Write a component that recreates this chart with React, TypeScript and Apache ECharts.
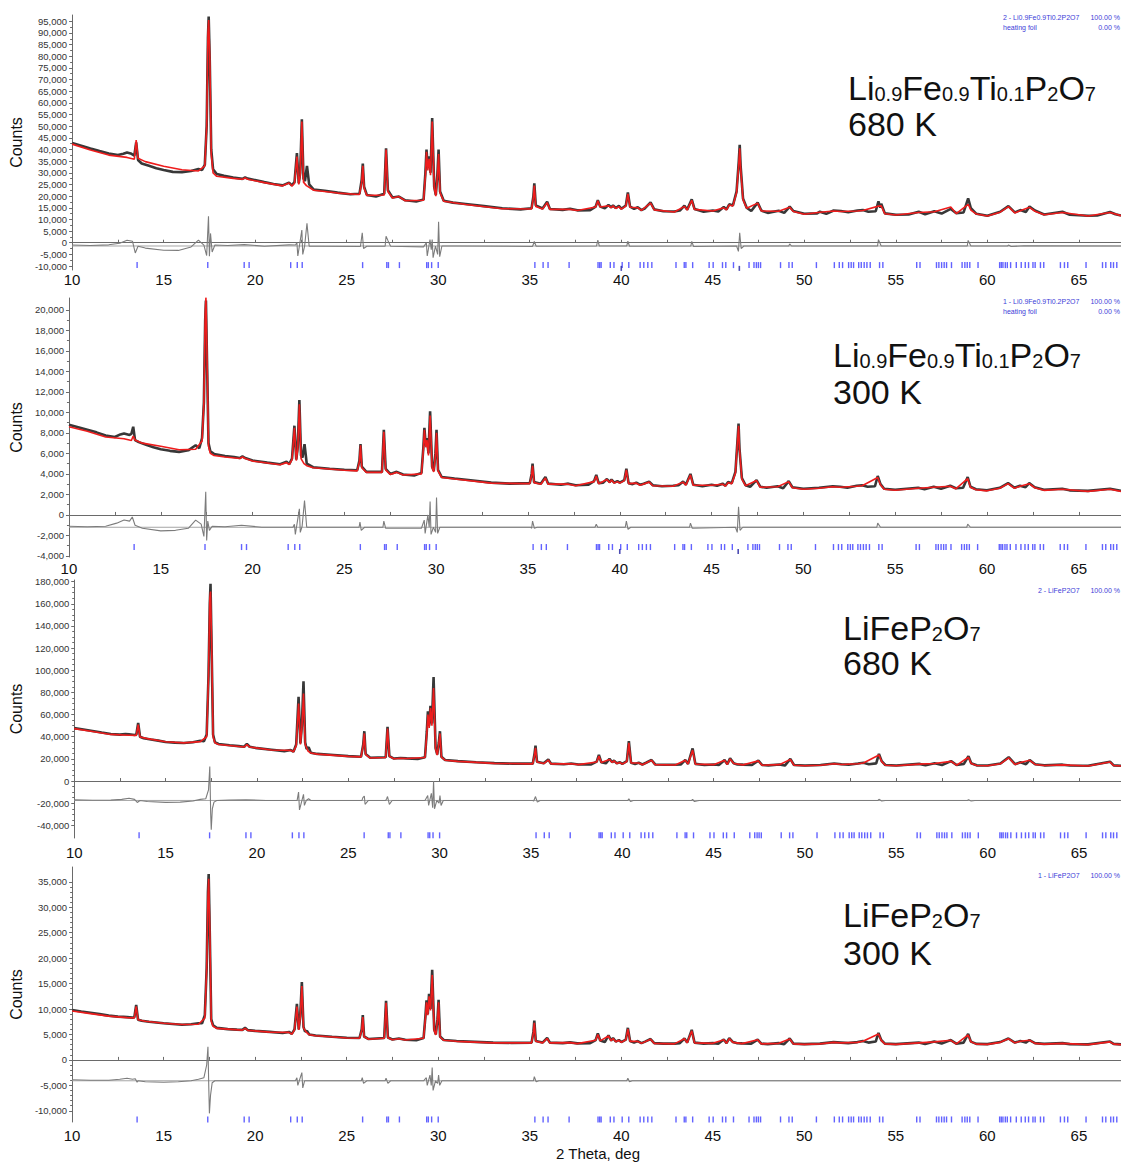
import React, { useEffect, useRef } from "react";
import * as echarts from "echarts";

const FONT = "'Liberation Sans', Arial, Helvetica, sans-serif";

// ---------- axes ----------
const X_MIN = 10;
const X_MAX = 67.3;
const X_LABELS = [10, 15, 20, 25, 30, 35, 40, 45, 50, 55, 60, 65];
const X_TICKS = [10, 12.5, 15, 17.5, 20, 22.5, 25, 27.5, 30, 32.5, 35, 37.5, 40, 42.5, 45, 47.5, 50, 52.5, 55, 57.5, 60, 62.5, 65];

const P1_Y_LABELS = [-10000, -5000, 0, 5000, 10000, 15000, 20000, 25000, 30000, 35000, 40000, 45000, 50000, 55000, 60000, 65000, 70000, 75000, 80000, 85000, 90000, 95000];
const P2_Y_LABELS = [-4000, -2000, 0, 2000, 4000, 6000, 8000, 10000, 12000, 14000, 16000, 18000, 20000];
const P3_Y_LABELS = [-40000, -20000, 0, 20000, 40000, 60000, 80000, 100000, 120000, 140000, 160000, 180000];
const P4_Y_LABELS = [-10000, -5000, 0, 5000, 10000, 15000, 20000, 25000, 30000, 35000];

// ---------- reflection positions (2θ) ----------
const REFLECTIONS = [13.55, 17.41, 19.4, 19.67, 21.94, 22.3, 22.57, 25.87, 27.19, 27.28, 27.88, 29.37, 29.46, 29.64, 30.0,
  35.28, 35.73, 36.0, 37.15, 38.73, 38.82, 38.9, 39.4, 39.6, 40.05, 40.41, 41.03, 41.23, 41.45, 41.67, 42.99, 43.44, 43.53,
  43.9, 44.8, 45.02, 45.53, 45.71, 46.13, 46.98, 47.25, 47.38, 47.49, 47.61, 48.7, 49.16, 49.34, 50.66, 51.64, 51.91, 52.09,
  52.42, 52.56, 52.69, 52.97, 53.11, 53.27, 53.42, 53.6, 54.11, 54.29, 56.14, 56.32, 57.22, 57.35, 57.5, 57.64, 57.77, 58.04,
  58.62, 58.77, 58.9, 59.04, 59.49, 60.67, 60.76, 60.85, 60.98, 61.09, 61.27, 61.58, 61.85, 62.07, 62.25, 62.49, 62.61, 62.9,
  63.08, 63.99, 64.21, 64.39, 65.39, 66.29, 66.47, 66.74, 66.89, 67.07];
const FOIL_REFLECTIONS = [40.0, 46.45];

// ---------- Panel 1: Li0.9Fe0.9Ti0.1P2O7, 680 K ----------
const P1_OBS = [10.0,42800, 10.5,41600, 11.0,40400, 11.5,39300, 12.0,38300, 12.5,37600, 12.8,38200, 13.0,38700, 13.2,38300, 13.4,37400,
  13.5,43000, 13.6,35500, 13.8,34000, 14.2,33000, 14.6,32000, 15.0,31200, 15.5,30400, 16.0,30300, 16.5,30800, 16.9,31600, 17.1,31200,
  17.25,33500, 17.35,50000, 17.42,88000, 17.46,97000, 17.52,78000, 17.6,40000, 17.7,31500, 17.9,29500, 18.3,28700, 18.8,28000,
  19.3,27400, 19.45,28000, 19.6,27500, 19.9,27000, 20.5,26000, 21.0,25200, 21.5,24600, 21.85,25800, 22.0,24600, 22.15,26000,
  22.28,38500, 22.38,25500, 22.46,30000, 22.55,53000, 22.64,27500, 22.72,26500, 22.83,33000, 22.95,25000, 23.2,22800, 23.8,22300,
  24.5,21500, 25.2,20800, 25.7,21000, 25.82,27000, 25.88,34000, 25.95,24000, 26.1,20500, 26.6,19800, 27.05,21000, 27.15,40500,
  27.25,22500, 27.5,19400, 27.85,19800, 28.2,18200, 28.8,17700, 29.2,18500, 29.3,30000, 29.36,40000, 29.43,32000, 29.5,37000,
  29.58,30000, 29.67,53500, 29.78,24000, 29.87,20500, 29.96,30000, 30.02,40000, 30.1,22000, 30.3,18000, 30.8,17200, 31.5,16600,
  32.5,15700, 33.5,14800, 34.5,14300, 35.1,14800, 35.2,20000, 35.25,25500, 35.33,16000, 35.7,14700, 35.95,17600, 36.1,14500,
  36.8,14100, 37.2,14600, 37.6,13900, 38.3,14000, 38.6,15500, 38.72,18300, 38.85,15500, 39.1,14800, 39.3,16200, 39.45,15200,
  39.55,16000, 39.7,14900, 39.87,15800, 40.0,14600, 40.25,16000, 40.36,21600, 40.48,15500, 40.7,14500, 40.9,15200, 41.1,14000,
  41.3,14800, 41.6,17300, 41.8,14300, 42.3,13500, 42.9,13400, 43.2,13800, 43.45,15900, 43.6,14200, 43.85,18600, 44.0,14500,
  44.5,13300, 45.0,13800, 45.3,13400, 45.6,15300, 45.75,14300, 45.9,16500, 46.1,16000, 46.3,22000, 46.42,35000, 46.47,42000,
  46.52,33000, 46.65,19000, 46.85,15000, 47.1,13600, 47.45,17200, 47.65,13800, 48.0,12800, 48.6,13700, 48.9,12800, 49.2,15500,
  49.4,13600, 50.0,12400, 50.7,12600, 50.85,13300, 51.2,12400, 51.6,13800, 52.0,13600, 52.4,13100, 52.9,13800, 53.2,14000,
  53.5,13300, 53.9,13500, 54.05,17800, 54.15,15000, 54.2,16700, 54.4,12600, 55.0,12000, 55.7,12100, 56.25,13300, 56.6,12200,
  57.1,13500, 57.5,12500, 58.0,14500, 58.3,12700, 58.7,13000, 58.95,19000, 59.1,14800, 59.4,12400, 60.0,11600, 60.7,13300,
  61.15,15700, 61.5,13000, 61.8,14000, 62.1,13200, 62.3,15500, 62.6,13800, 63.1,12100, 64.1,13300, 64.5,12000, 65.5,11600,
  66.0,11700, 66.7,13200, 67.0,12200, 67.3,11700];
const P1_CALC = [10.0,42300, 11.0,39800, 12.0,37600, 13.0,36600, 13.4,35800, 13.5,44000, 13.6,36200, 14.0,34800, 15.0,32800,
  16.0,31300, 16.9,30800, 17.25,33000, 17.35,50000, 17.42,90000, 17.46,95500, 17.52,80000, 17.6,38000, 17.7,30000, 17.9,28500,
  18.8,27600, 19.3,27200, 19.45,27800, 19.6,27200, 20.5,25800, 21.5,24400, 21.85,25600, 22.0,24300, 22.15,25500, 22.28,37000,
  22.38,25000, 22.46,29000, 22.55,52000, 22.64,26000, 22.8,24500, 23.2,22500, 24.5,21300, 25.7,20700, 25.82,26000, 25.88,33000,
  25.95,23500, 26.1,20300, 27.05,20500, 27.15,40000, 27.25,22000, 27.5,19200, 27.85,19800, 28.2,18000, 29.2,18200, 29.3,29000,
  29.36,39000, 29.43,31000, 29.5,36000, 29.58,29000, 29.67,52000, 29.78,23500, 29.87,20000, 29.96,29000, 30.02,38000, 30.1,21500,
  30.3,17800, 31.5,16400, 33.5,14600, 35.1,14500, 35.2,19500, 35.25,24500, 35.33,15500, 35.7,14500, 35.95,17200, 36.1,14300,
  37.2,14300, 37.6,13800, 38.6,15300, 38.72,18000, 38.85,15300, 39.3,15900, 39.45,15000, 39.55,15800, 39.7,14700, 39.87,15500,
  40.0,14400, 40.25,15700, 40.36,21000, 40.48,15200, 40.9,15000, 41.1,13900, 41.6,17000, 41.8,14100, 42.9,13200, 43.45,15600,
  43.6,14000, 43.85,18200, 44.0,14300, 45.0,13600, 45.6,15000, 45.75,14100, 45.9,16200, 46.1,15800, 46.3,21500, 46.42,34000,
  46.47,40500, 46.52,32000, 46.65,18500, 46.85,14800, 47.45,17000, 47.65,13600, 48.6,13500, 49.2,15200, 49.4,13400, 50.0,12200,
  50.85,13100, 51.6,13600, 52.0,13400, 52.9,13600, 53.2,13800, 54.05,15700, 54.2,15800, 54.4,12400, 55.0,11900, 56.25,13000,
  57.1,13300, 58.0,15300, 58.3,12500, 58.95,16500, 59.1,14000, 59.4,12300, 60.0,11500, 60.7,13100, 61.15,15500, 61.5,12800,
  61.8,13700, 62.3,15200, 62.6,13500, 63.1,12000, 64.1,13000, 65.5,11500, 66.7,13000, 67.3,11600];
const P1_DIFF = [10.0,-1000, 11.0,-1200, 12.0,-900, 12.6,-200, 13.0,1100, 13.3,600, 13.45,-4400, 13.6,-1500, 14.0,-2300, 15.0,-3200,
  15.8,-3300, 16.5,-1800, 16.9,1100, 17.2,-1000, 17.35,-5500, 17.45,11400, 17.5,-5800, 17.56,4000, 17.65,-4000, 17.8,-1000,
  18.5,-1200, 19.4,-800, 20.5,-1500, 21.85,-900, 22.2,-1000, 22.28,0, 22.33,-5700, 22.55,5400, 22.6,-5000, 22.7,-1500,
  22.83,8300, 22.95,-1500, 23.5,-1500, 25.75,-1600, 25.85,4300, 25.92,-2500, 26.1,-1500, 27.1,-1500, 27.15,2800, 27.25,1000,
  27.4,-1500, 29.2,-1800, 29.35,0, 29.4,-5700, 29.55,1400, 29.62,-3000, 29.67,1400, 29.72,-6400, 29.85,-1500, 29.97,-5000,
  30.02,9000, 30.08,-6000, 30.2,-1400, 31.0,-1400, 35.15,-1600, 35.25,500, 35.35,-1500, 38.65,-1400, 38.72,1100, 38.8,-1400,
  40.3,-1400, 40.36,700, 40.45,-1500, 43.8,-1400, 43.85,600, 43.95,-1600, 46.3,-1400, 46.4,-3700, 46.47,4300, 46.55,-2500,
  46.7,-1400, 49.15,-1400, 49.2,-500, 49.3,-1400, 54.0,-1400, 54.05,1300, 54.2,-1400, 58.9,-1400, 58.95,1000, 59.1,-1400,
  61.1,-1400, 61.15,-1000, 61.3,-1600, 62.0,-1300, 67.3,-1400];
const P1_DIFF_BASE = -1400;

// ---------- Panel 2: Li0.9Fe0.9Ti0.1P2O7, 300 K ----------
const P2_OBS = [10.0,8800, 10.5,8550, 11.0,8300, 11.5,8050, 12.0,7750, 12.5,7600, 12.8,7850, 13.0,7950, 13.3,7800, 13.4,7900,
  13.5,8600, 13.6,7300, 13.8,7100, 14.2,6850, 14.6,6600, 15.0,6400, 15.5,6250, 16.0,6150, 16.5,6300, 16.9,6800, 17.1,6500,
  17.25,7500, 17.35,11000, 17.42,19000, 17.46,20900, 17.52,15000, 17.6,7000, 17.7,6200, 17.9,5950, 18.5,5750, 19.0,5650,
  19.3,5550, 19.45,5700, 19.6,5550, 20.0,5300, 20.8,5100, 21.5,4950, 21.85,5200, 22.0,4950, 22.15,5500, 22.28,8700, 22.38,5400,
  22.46,6600, 22.55,11200, 22.64,5800, 22.72,5600, 22.83,6900, 22.95,5000, 23.3,4650, 24.2,4500, 25.0,4400, 25.7,4350, 25.82,5300,
  25.88,6900, 25.95,4700, 26.2,4200, 27.05,4200, 27.15,8300, 27.25,4500, 27.5,4000, 27.85,4200, 28.2,3950, 28.8,3850, 29.2,4100,
  29.3,6500, 29.36,8500, 29.43,6800, 29.5,7500, 29.58,6000, 29.67,10100, 29.78,4700, 29.87,4300, 29.96,6000, 30.02,8300,
  30.1,4400, 30.3,3700, 31.0,3550, 32.0,3350, 33.0,3150, 34.0,3050, 35.1,3100, 35.2,4000, 35.25,5000, 35.33,3200, 35.7,3050,
  35.95,3700, 36.1,3050, 36.8,2950, 37.2,3050, 37.6,2900, 38.3,2950, 38.6,3300, 38.72,3900, 38.85,3100, 39.1,3150, 39.3,3500,
  39.45,3200, 39.55,3450, 39.7,3150, 39.87,3300, 40.0,3150, 40.25,3400, 40.36,4500, 40.48,3100, 40.7,3000, 40.9,3150, 41.1,2950,
  41.3,3050, 41.6,3250, 41.8,2900, 42.3,2800, 42.9,2850, 43.2,2900, 43.45,3250, 43.6,2950, 43.85,4000, 44.0,2950, 44.5,2800,
  45.0,2950, 45.3,2850, 45.6,3050, 45.75,2850, 45.9,3200, 46.1,3100, 46.3,4200, 46.42,7500, 46.47,8900, 46.52,6500, 46.65,3600,
  46.85,2900, 47.1,2750, 47.45,3400, 47.65,2750, 48.0,2650, 48.6,2800, 48.9,2600, 49.2,3300, 49.4,2700, 50.0,2550, 50.85,2650,
  51.6,2800, 52.0,2750, 52.4,2650, 52.9,2850, 53.2,2900, 53.5,2750, 53.9,2800, 54.05,3800, 54.2,3000, 54.4,2550, 55.0,2450,
  56.25,2650, 56.6,2500, 57.1,2750, 57.5,2550, 58.0,2850, 58.3,2600, 58.7,2650, 58.95,3700, 59.1,2750, 59.4,2500, 60.0,2400,
  60.7,2650, 61.15,3100, 61.5,2650, 61.8,2850, 62.1,2700, 62.3,3100, 62.6,2700, 63.1,2450, 64.1,2550, 64.5,2400, 65.5,2350,
  66.7,2550, 67.3,2350];
const P2_CALC = [10.0,8600, 11.0,8150, 12.0,7600, 13.0,7430, 13.4,7250, 13.5,7700, 13.6,7300, 14.0,7000, 15.0,6700, 16.0,6360,
  16.9,6400, 17.25,7200, 17.35,11000, 17.42,19500, 17.46,21200, 17.52,15500, 17.6,6700, 17.7,6000, 17.9,5800, 18.5,5650,
  19.3,5500, 19.45,5650, 19.6,5500, 20.0,5250, 21.5,4900, 21.85,5100, 22.0,4900, 22.15,5400, 22.28,8500, 22.38,5300, 22.46,6400,
  22.55,10800, 22.64,5500, 22.8,5000, 22.95,4800, 23.3,4600, 25.0,4350, 25.7,4300, 25.82,5200, 25.88,6800, 25.95,4600, 26.2,4150,
  27.05,4150, 27.15,8100, 27.25,4400, 27.5,3950, 27.85,4150, 28.2,3900, 29.2,4000, 29.3,6300, 29.36,8300, 29.43,6600, 29.5,7300,
  29.58,5800, 29.67,9700, 29.78,4600, 29.87,4200, 29.96,5800, 30.02,8000, 30.1,4300, 30.3,3650, 31.0,3500, 33.0,3100, 35.1,3050,
  35.2,3900, 35.25,4800, 35.33,3150, 35.7,3000, 35.95,3600, 36.1,3000, 37.2,3000, 37.6,2850, 38.6,3250, 38.72,3800, 38.85,3050,
  39.3,3450, 39.45,3150, 39.55,3400, 39.7,3100, 39.87,3250, 40.0,3100, 40.25,3350, 40.36,4400, 40.48,3050, 40.9,3100, 41.1,2900,
  41.6,3200, 41.8,2850, 42.9,2800, 43.45,3200, 43.6,2900, 43.85,3900, 44.0,2900, 45.0,2900, 45.6,3000, 45.75,2800, 45.9,3150,
  46.1,3050, 46.3,4100, 46.42,7400, 46.47,8700, 46.52,6400, 46.65,3500, 46.85,2850, 47.45,3350, 47.65,2700, 48.6,2750, 49.2,3250,
  49.4,2650, 50.0,2500, 50.85,2600, 51.6,2750, 52.0,2700, 52.9,2800, 53.2,2850, 54.05,3650, 54.2,2950, 54.4,2500, 55.0,2400,
  56.25,2600, 57.1,2700, 58.0,2800, 58.3,2550, 58.95,3550, 59.1,2700, 59.4,2450, 60.0,2350, 60.7,2600, 61.15,3050, 61.5,2600,
  61.8,2800, 62.3,3050, 62.6,2650, 63.1,2400, 64.1,2500, 65.5,2300, 66.7,2500, 67.3,2300];
const P2_DIFF = [10.0,-1100, 11.0,-1150, 12.0,-1100, 12.6,-800, 13.0,-500, 13.3,-600, 13.45,-200, 13.6,-1000, 14.0,-1300,
  15.0,-1550, 15.8,-1500, 16.5,-1300, 16.9,-500, 17.2,-900, 17.35,-2100, 17.45,2260, 17.5,-2500, 17.56,-600, 17.65,-1500,
  17.8,-1100, 18.5,-1150, 19.4,-1000, 20.5,-1200, 22.2,-1200, 22.28,-900, 22.33,-1900, 22.55,600, 22.6,-1700, 22.7,-1100,
  22.83,1400, 22.95,-1200, 25.8,-1200, 25.85,-700, 25.92,-1500, 26.1,-1200, 27.1,-1200, 27.15,-600, 27.25,-1300, 29.2,-1300,
  29.35,-500, 29.4,-1800, 29.55,0, 29.62,-1200, 29.67,1300, 29.72,-1900, 29.85,-1200, 29.97,-1700, 30.02,1700, 30.08,-1800,
  30.2,-1200, 35.15,-1200, 35.2,-1300, 35.25,-600, 35.35,-1300, 35.5,-1200, 38.65,-1200, 38.72,-900, 38.8,-1200, 40.3,-1200,
  40.36,-600, 40.45,-1400, 40.6,-1200, 43.8,-1200, 43.85,-800, 43.95,-1300, 46.3,-1200, 46.4,-1700, 46.47,800, 46.55,-1500,
  46.7,-1200, 54.0,-1200, 54.05,-800, 54.2,-1200, 58.9,-1200, 58.95,-900, 59.1,-1200, 67.3,-1200];
const P2_DIFF_BASE = -1200;

// ---------- Panel 3: LiFeP2O7, 680 K ----------
const P3_OBS = [10.0,47800, 10.5,46500, 11.0,45200, 11.5,43800, 12.0,42500, 12.5,41900, 12.8,42500, 13.0,42200, 13.3,41600,
  13.4,42000, 13.5,52500, 13.6,40000, 13.8,38700, 14.2,37500, 14.6,36500, 15.0,35300, 15.5,34700, 16.0,34300, 16.5,35000,
  16.9,36400, 17.1,36000, 17.25,42000, 17.35,95000, 17.42,160000, 17.46,178000, 17.52,120000, 17.6,42000, 17.7,35000,
  17.9,33500, 18.5,32300, 19.0,31500, 19.3,31000, 19.45,33500, 19.6,31000, 20.0,29700, 20.8,28300, 21.5,27000, 21.85,28000,
  22.0,26500, 22.15,33000, 22.28,76000, 22.38,34000, 22.46,50000, 22.55,90000, 22.64,35000, 22.72,29000, 22.83,30500,
  22.95,25500, 23.3,24500, 24.2,23500, 25.0,22500, 25.7,22000, 25.82,33000, 25.88,45000, 25.95,24500, 26.2,21000, 27.05,21500,
  27.15,49000, 27.25,22500, 27.5,20300, 27.85,20800, 28.2,20500, 28.8,20000, 29.2,21500, 29.3,45000, 29.36,63000, 29.43,50000,
  29.5,68000, 29.58,52000, 29.67,94000, 29.78,30000, 29.87,24000, 29.96,35000, 30.02,45000, 30.1,22000, 30.3,19000, 31.0,18000,
  32.0,17000, 33.0,16200, 34.0,15700, 35.1,15700, 35.2,25000, 35.25,32000, 35.33,17500, 35.7,16000, 35.95,19500, 36.1,15700,
  36.8,15200, 37.2,15800, 37.6,15000, 38.3,15100, 38.6,17500, 38.72,23500, 38.85,17000, 39.1,16000, 39.3,20000, 39.45,17000,
  39.55,18500, 39.7,16000, 39.87,17000, 40.0,15500, 40.25,18000, 40.36,36000, 40.48,16500, 40.7,15500, 40.9,16500, 41.1,15000,
  41.3,16500, 41.6,19000, 41.8,15000, 42.3,14700, 42.9,14700, 43.2,15000, 43.45,19000, 43.6,15500, 43.85,29500, 44.0,15500,
  44.5,14500, 45.0,15000, 45.3,14600, 45.6,19000, 45.75,15200, 45.9,20500, 46.1,16000, 46.3,15000, 46.6,14800, 47.1,14500,
  47.45,18500, 47.65,14500, 48.0,14200, 48.6,15000, 48.9,14000, 49.2,20000, 49.4,14500, 50.0,14000, 50.85,14500, 51.6,15800,
  52.0,15200, 52.4,14800, 52.9,15800, 53.2,16500, 53.5,15200, 53.9,16000, 54.05,24500, 54.2,18000, 54.4,14500, 55.0,14000,
  56.25,15500, 56.6,14200, 57.1,16000, 57.5,14500, 58.0,18000, 58.3,14500, 58.7,15500, 58.95,22500, 59.1,16000, 59.4,14200,
  60.0,14000, 60.7,15800, 61.15,21500, 61.5,15200, 61.8,17000, 62.1,15200, 62.3,19000, 62.6,15200, 63.1,14200, 64.1,14800,
  64.5,14000, 65.5,13800, 66.7,17500, 66.9,14200, 67.3,13800];
const P3_CALC = [10.0,47300, 11.0,44800, 12.0,42100, 13.0,41300, 13.4,41200, 13.5,51000, 13.6,39800, 14.0,38300, 15.0,35500,
  16.0,34500, 16.9,35600, 17.25,40000, 17.35,95000, 17.42,165000, 17.46,171000, 17.52,125000, 17.6,40000, 17.7,34500, 17.9,33000,
  19.3,30700, 19.45,33000, 19.6,30700, 20.8,28000, 21.85,27700, 22.0,26300, 22.15,32000, 22.28,70000, 22.38,33000, 22.46,48000,
  22.55,79000, 22.64,33000, 22.8,27000, 22.95,25300, 23.3,24300, 25.0,22300, 25.7,21800, 25.82,32000, 25.88,43000, 25.95,24000,
  26.2,20800, 27.05,21300, 27.15,47500, 27.25,22300, 27.5,20100, 27.85,20600, 28.2,20300, 29.2,21200, 29.3,43000, 29.36,60000,
  29.43,48000, 29.5,66000, 29.58,50000, 29.67,84000, 29.78,29000, 29.87,23500, 29.96,34000, 30.02,43000, 30.1,21500, 30.3,18800,
  31.0,17800, 33.0,16000, 35.1,15500, 35.2,24000, 35.25,30000, 35.33,17200, 35.7,15800, 35.95,19000, 36.1,15500, 37.2,15600,
  37.6,14800, 38.6,17200, 38.72,22500, 38.85,16800, 39.3,19500, 39.45,16800, 39.55,18200, 39.7,15800, 39.87,16800, 40.0,15300,
  40.25,17700, 40.36,34500, 40.48,16300, 40.9,16300, 41.1,14800, 41.6,18700, 41.8,14800, 42.9,14500, 43.45,18700, 43.6,15300,
  43.85,28000, 44.0,15300, 45.0,14800, 45.6,18700, 45.75,15000, 45.9,20000, 46.1,15800, 46.6,14600, 47.45,18200, 47.65,14300,
  48.6,14800, 49.2,19500, 49.4,14300, 50.0,13800, 50.85,14300, 51.6,15600, 52.0,15000, 52.9,15600, 53.2,16300, 54.05,23500,
  54.2,17500, 54.4,14300, 55.0,13800, 56.25,15300, 57.1,15800, 58.0,17800, 58.3,14300, 58.95,21500, 59.1,15800, 59.4,14000,
  60.0,13800, 60.7,15600, 61.15,21000, 61.5,15000, 61.8,16800, 62.3,18700, 62.6,15000, 63.1,14000, 64.1,14600, 65.5,13600,
  66.7,17200, 66.9,14000, 67.3,13600];
const P3_DIFF = [10.0,-17000, 11.0,-17300, 12.0,-17200, 12.6,-16500, 13.0,-15500, 13.3,-16500, 13.45,-19300, 13.6,-17500,
  14.0,-18500, 15.0,-19200, 15.8,-19000, 16.5,-18000, 16.9,-16500, 17.2,-16000, 17.35,-8000, 17.42,13200, 17.47,-30000,
  17.5,-44000, 17.56,-25000, 17.65,-19000, 17.8,-17500, 18.5,-17200, 19.4,-17000, 20.5,-17500, 22.2,-17500, 22.28,-10000,
  22.33,-26000, 22.55,-12000, 22.6,-22000, 22.7,-17500, 22.83,-16000, 22.95,-17500, 25.75,-17500, 25.8,-15000, 25.88,-13500,
  25.92,-21000, 26.1,-17500, 27.05,-17500, 27.1,-16000, 27.15,-14000, 27.25,-21000, 27.4,-17500, 29.2,-17500, 29.35,-13000,
  29.4,-22000, 29.55,-11000, 29.62,-24000, 29.67,0, 29.72,-25000, 29.85,-17500, 29.97,-20000, 30.02,-13000, 30.08,-22000,
  30.2,-17500, 35.1,-17500, 35.15,-18000, 35.25,-14000, 35.35,-19000, 35.5,-17500, 40.3,-17500, 40.36,-16000, 40.45,-18500,
  40.6,-17500, 43.8,-17500, 43.85,-16500, 43.95,-18500, 44.2,-17500, 54.0,-17500, 54.05,-16500, 54.2,-18000, 54.4,-17500,
  58.9,-17500, 58.95,-16800, 59.1,-18000, 59.3,-17500, 67.3,-17500];
const P3_DIFF_BASE = -17500;

// ---------- Panel 4: LiFeP2O7, 300 K ----------
const P4_OBS = [10.0,9800, 10.5,9500, 11.0,9250, 11.5,9000, 12.0,8700, 12.5,8500, 12.8,8450, 13.0,8400, 13.3,8300, 13.4,8400,
  13.5,10800, 13.6,7900, 13.8,7700, 14.2,7500, 14.6,7350, 15.0,7200, 15.5,7050, 16.0,6900, 16.5,7000, 16.9,7200, 17.1,7200,
  17.25,8800, 17.35,18000, 17.42,33000, 17.46,36500, 17.52,25000, 17.6,8000, 17.7,6800, 17.9,6300, 18.5,6050, 19.0,5950,
  19.3,5900, 19.45,6300, 19.6,5850, 20.0,5700, 20.8,5500, 21.5,5300, 21.85,5500, 22.0,5100, 22.15,6000, 22.28,11000, 22.38,6000,
  22.46,8500, 22.55,15300, 22.64,6500, 22.72,5600, 22.83,5700, 22.95,5000, 23.3,4800, 24.2,4550, 25.0,4350, 25.7,4300, 25.82,6000,
  25.88,8800, 25.95,4600, 26.2,4100, 27.05,4300, 27.15,11600, 27.25,4400, 27.5,4000, 27.85,4200, 28.2,3950, 28.8,3850, 29.2,4300,
  29.3,8500, 29.36,11700, 29.43,9000, 29.5,13000, 29.58,10000, 29.67,17700, 29.78,6000, 29.87,5000, 29.96,8000, 30.02,11800,
  30.1,4600, 30.3,3900, 31.0,3700, 32.0,3550, 33.0,3400, 34.0,3350, 35.1,3400, 35.2,5500, 35.25,7700, 35.33,3700, 35.7,3400,
  35.95,4300, 36.1,3400, 36.8,3300, 37.2,3450, 37.6,3250, 38.3,3300, 38.6,3900, 38.72,5200, 38.85,3800, 39.1,3500, 39.3,4800,
  39.45,3800, 39.55,4300, 39.7,3600, 39.87,3900, 40.0,3500, 40.25,4000, 40.36,6300, 40.48,3700, 40.7,3400, 40.9,3700, 41.1,3300,
  41.3,3600, 41.6,4100, 41.8,3300, 42.3,3200, 42.9,3200, 43.2,3300, 43.45,4200, 43.6,3400, 43.85,5900, 44.0,3400, 44.5,3200,
  45.0,3300, 45.3,3200, 45.6,4000, 45.75,3300, 45.9,4300, 46.1,3500, 46.3,3300, 46.6,3250, 47.1,3200, 47.45,4000, 47.65,3200,
  48.0,3100, 48.6,3300, 48.9,3100, 49.2,4200, 49.4,3200, 50.0,3100, 50.85,3200, 51.6,3500, 52.0,3400, 52.4,3300, 52.9,3500,
  53.2,3700, 53.5,3400, 53.9,3600, 54.05,5300, 54.2,3900, 54.4,3200, 55.0,3100, 56.25,3400, 56.6,3150, 57.1,3600, 57.5,3200,
  58.0,3900, 58.3,3200, 58.7,3400, 58.95,5100, 59.1,3600, 59.4,3150, 60.0,3100, 60.7,3500, 61.15,4200, 61.5,3400, 61.8,3700,
  62.1,3400, 62.3,3900, 62.6,3300, 63.1,3150, 64.1,3300, 64.5,3100, 65.5,3050, 66.7,3600, 66.9,3150, 67.3,3050];
const P4_CALC = [10.0,9600, 11.0,9100, 12.0,8600, 13.0,8300, 13.4,8250, 13.5,10500, 13.6,7900, 14.0,7600, 15.0,7200, 16.0,6950,
  16.9,7000, 17.25,8200, 17.35,18000, 17.42,32000, 17.46,35600, 17.52,26000, 17.6,7600, 17.7,6600, 17.9,6200, 19.3,5850,
  19.45,6200, 19.6,5800, 20.8,5450, 21.85,5400, 22.0,5050, 22.15,5900, 22.28,10500, 22.38,5900, 22.46,8200, 22.55,14500,
  22.64,6300, 22.8,5400, 22.95,4950, 23.3,4750, 25.0,4300, 25.7,4250, 25.82,5800, 25.88,8400, 25.95,4550, 26.2,4050, 27.05,4250,
  27.15,11200, 27.25,4350, 27.5,3950, 27.85,4150, 28.2,3900, 29.2,4250, 29.3,8200, 29.36,11300, 29.43,8800, 29.5,12500,
  29.58,9700, 29.67,16700, 29.78,5800, 29.87,4900, 29.96,7800, 30.02,11300, 30.1,4500, 30.3,3850, 31.0,3650, 33.0,3350,
  35.1,3350, 35.2,5300, 35.25,7300, 35.33,3650, 35.7,3350, 35.95,4200, 36.1,3350, 37.2,3400, 37.6,3200, 38.6,3850, 38.72,5000,
  38.85,3750, 39.3,4700, 39.45,3750, 39.55,4200, 39.7,3550, 39.87,3850, 40.0,3450, 40.25,3950, 40.36,6100, 40.48,3650, 40.9,3650,
  41.1,3250, 41.6,4050, 41.8,3250, 42.9,3150, 43.45,4150, 43.6,3350, 43.85,5700, 44.0,3350, 45.0,3250, 45.6,3950, 45.75,3250,
  45.9,4200, 46.1,3450, 46.6,3200, 47.45,3950, 47.65,3150, 48.6,3250, 49.2,4100, 49.4,3150, 50.0,3050, 50.85,3150, 51.6,3450,
  52.0,3350, 52.9,3450, 53.2,3650, 54.05,5100, 54.2,3850, 54.4,3150, 55.0,3050, 56.25,3350, 57.1,3550, 58.0,3850, 58.3,3150,
  58.95,4900, 59.1,3550, 59.4,3100, 60.0,3050, 60.7,3450, 61.15,4150, 61.5,3350, 61.8,3650, 62.3,3850, 62.6,3250, 63.1,3100,
  64.1,3250, 65.5,3000, 66.7,3550, 66.9,3100, 67.3,3000];
const P4_DIFF = [10.0,-3900, 11.0,-4000, 12.0,-4000, 12.6,-3800, 13.0,-3600, 13.3,-3800, 13.45,-3700, 13.55,-4400, 13.6,-4100,
  14.0,-4300, 15.0,-4400, 15.8,-4300, 16.5,-4100, 16.9,-3800, 17.2,-3500, 17.35,-1000, 17.42,2600, 17.47,-6000, 17.5,-10500,
  17.56,-7000, 17.65,-4500, 17.8,-4100, 22.2,-4100, 22.28,-3500, 22.33,-5000, 22.55,-2500, 22.6,-5500, 22.7,-4100, 25.8,-4100,
  25.85,-3500, 25.92,-4600, 26.1,-4100, 27.1,-4100, 27.15,-3600, 27.25,-4600, 27.4,-4100, 29.2,-4100, 29.35,-3500, 29.4,-5000,
  29.55,-3000, 29.62,-5000, 29.67,-1500, 29.72,-6000, 29.85,-4100, 29.97,-4600, 30.02,-3000, 30.08,-5000, 30.2,-4100,
  35.2,-4100, 35.25,-3300, 35.35,-4300, 35.5,-4100, 40.3,-4100, 40.36,-3600, 40.45,-4300, 40.6,-4100, 67.3,-4100];
const P4_DIFF_BASE = -4100;

// ---------- helpers ----------
function pairs(a: number[]): number[][] {
  const out: number[][] = [];
  for (let i = 0; i < a.length; i += 2) out.push([a[i], a[i + 1]]);
  return out;
}
function steps(a: number, b: number, s: number): number[] {
  const out: number[] = [];
  for (let v = a; v <= b + 1e-9; v += s) out.push(Math.round(v * 1000) / 1000);
  return out;
}
const fmt = (v: number) => Math.round(v).toLocaleString("en-US");

const PANELS = [
  { obs: P1_OBS, calc: P1_CALC, diff: P1_DIFF, base: P1_DIFF_BASE, labels: P1_Y_LABELS, foil: true,
    yMin: -11700, yMax: 97700, minorStep: 2500, reflY: -9600, foilY: -11000,
    left: 67, top: 15, height: 255, nameGap: 40, xMargin: 2 },
  { obs: P2_OBS, calc: P2_CALC, diff: P2_DIFF, base: P2_DIFF_BASE, labels: P2_Y_LABELS, foil: true,
    yMin: -4100, yMax: 21150, minorStep: 1000, reflY: -3130, foilY: -3560,
    left: 64, top: 298, height: 259, nameGap: 37, xMargin: 4 },
  { obs: P3_OBS, calc: P3_CALC, diff: P3_DIFF, base: P3_DIFF_BASE, labels: P3_Y_LABELS, foil: false,
    yMin: -51400, yMax: 181500, minorStep: 5000, reflY: -49000, foilY: 0,
    left: 70, top: 580, height: 258, nameGap: 43, xMargin: 7 },
  { obs: P4_OBS, calc: P4_CALC, diff: P4_DIFF, base: P4_DIFF_BASE, labels: P4_Y_LABELS, foil: false,
    yMin: -12200, yMax: 37900, minorStep: 1000, reflY: -11700, foilY: 0,
    left: 67, top: 867, height: 255, nameGap: 40, xMargin: 6 },
];

function buildOption() {
  const grid: any[] = [];
  const xAxis: any[] = [];
  const yAxis: any[] = [];
  const series: any[] = [];
  const axisColor = "#6a6a6a";

  PANELS.forEach((p, i) => {
    grid.push({ left: p.left, top: p.top, height: p.height, right: 0, containLabel: false });
    xAxis.push({
      gridIndex: i, type: "value", min: X_MIN, max: X_MAX,
      axisLine: { show: true, lineStyle: { color: axisColor, width: 1 } },
      axisTick: { show: true, inside: true, length: 3, customValues: X_TICKS, lineStyle: { color: axisColor } },
      axisLabel: { customValues: X_LABELS, fontSize: 15, color: "#111", fontFamily: FONT, margin: p.xMargin },
      splitLine: { show: false },
    });
    yAxis.push({
      gridIndex: i, type: "value", min: p.yMin, max: p.yMax, position: "left",
      axisLine: { show: true, lineStyle: { color: axisColor, width: 1 } },
      axisTick: { show: true, length: 3, customValues: p.labels, lineStyle: { color: axisColor } },
      axisLabel: { customValues: p.labels, formatter: fmt, fontSize: 9.5, color: "#333", fontFamily: FONT, margin: 5 },
      splitLine: { show: false },
      name: "Counts", nameLocation: "middle", nameGap: p.nameGap,
      nameTextStyle: { fontSize: 16, color: "#111", fontFamily: FONT },
    });
    const minor = steps(p.labels[0], p.labels[p.labels.length - 1], p.minorStep).filter((v) => p.labels.indexOf(v) < 0);
    yAxis.push({
      gridIndex: i, type: "value", min: p.yMin, max: p.yMax, position: "left",
      axisLine: { show: false },
      axisTick: { show: true, length: 2, customValues: minor, lineStyle: { color: axisColor } },
      axisLabel: { show: false, customValues: minor },
      splitLine: { show: false },
    });
    const yi = 2 * i;
    series.push({
      type: "line", xAxisIndex: i, yAxisIndex: yi, data: pairs(p.obs), silent: true,
      lineStyle: { color: "#383838", width: 2.6 }, symbol: "none", z: 2,
    });
    series.push({
      type: "line", xAxisIndex: i, yAxisIndex: yi, data: pairs(p.calc), silent: true,
      symbol: "none", lineStyle: { color: "#ee1c1c", width: 1.6 }, z: 3,
    });
    series.push({
      type: "line", xAxisIndex: i, yAxisIndex: yi, data: [[X_MIN, p.base], [X_MAX, p.base]], silent: true,
      symbol: "none", lineStyle: { color: "#a5a5a5", width: 1 }, z: 2,
    });
    series.push({
      type: "line", xAxisIndex: i, yAxisIndex: yi, data: pairs(p.diff), silent: true,
      symbol: "none", lineStyle: { color: "#7c7c7c", width: 1.1 }, z: 3,
    });
    series.push({
      type: "scatter", xAxisIndex: i, yAxisIndex: yi, data: REFLECTIONS.map((t) => [t, p.reflY]), silent: true,
      symbol: "rect", symbolSize: [1.4, 6], itemStyle: { color: "#3b3bff" }, z: 4,
    });
    if (p.foil) {
      series.push({
        type: "scatter", xAxisIndex: i, yAxisIndex: yi, data: FOIL_REFLECTIONS.map((t) => [t, p.foilY]), silent: true,
        symbol: "rect", symbolSize: [1.6, 5], itemStyle: { color: "#1f1fa0" }, z: 4,
      });
    }
  });

  const big = (x: number, y: number, text: string) => ({
    type: "text", x, y, silent: true,
    style: {
      text, align: "left", verticalAlign: "middle",
      rich: {
        b: { fontSize: 34, lineHeight: 32, fontFamily: FONT, fill: "#111" },
        s: { fontSize: 20, lineHeight: 32, fontFamily: FONT, fill: "#111", verticalAlign: "bottom" },
      },
    },
  });
  const plain = (x: number, y: number, text: string, size: number, fill: string, align = "left") => ({
    type: "text", x, y, silent: true,
    style: { text, fontSize: size, lineHeight: size > 20 ? 32 : undefined, fontFamily: FONT, fill, align, verticalAlign: "middle" },
  });
  const TI = "{b|Li}{s|0.9}{b|Fe}{s|0.9}{b|Ti}{s|0.1}{b|P}{s|2}{b|O}{s|7}";
  const LFP = "{b|LiFeP}{s|2}{b|O}{s|7}";
  const blue = "#3d3dd8";

  const graphic = [
    big(848, 88, TI), plain(848, 124, "680 K", 34, "#111"),
    big(833, 355, TI), plain(833, 392, "300 K", 34, "#111"),
    big(843, 628, LFP), plain(843, 663, "680 K", 34, "#111"),
    big(843, 915, LFP), plain(843, 953, "300 K", 34, "#111"),
    plain(1003, 17, "2 - Li0.9Fe0.9Ti0.2P2O7", 7, blue), plain(1120, 17, "100.00 %", 7, blue, "right"),
    plain(1003, 27, "heating foil", 7, blue), plain(1120, 27, "0.00 %", 7, blue, "right"),
    plain(1003, 301, "1 - Li0.9Fe0.9Ti0.2P2O7", 7, blue), plain(1120, 301, "100.00 %", 7, blue, "right"),
    plain(1003, 311, "heating foil", 7, blue), plain(1120, 311, "0.00 %", 7, blue, "right"),
    plain(1038, 590, "2 - LiFeP2O7", 7, blue), plain(1120, 590, "100.00 %", 7, blue, "right"),
    plain(1038, 875, "1 - LiFeP2O7", 7, blue), plain(1120, 875, "100.00 %", 7, blue, "right"),
    plain(598, 1153, "2 Theta, deg", 15, "#111", "center"),
  ];

  return { animation: false, backgroundColor: "#ffffff", grid, xAxis, yAxis, series, graphic };
}

export default function App() {
  const ref = useRef<HTMLDivElement>(null);
  useEffect(() => {
    if (!ref.current) return;
    const chart = echarts.init(ref.current, undefined, { renderer: "svg" });
    chart.setOption(buildOption() as any);
    return () => chart.dispose();
  }, []);
  return (
    <div
      ref={ref}
      style={{ position: "absolute", left: 0, top: 0, width: 1121, height: 1163, background: "#fff" }}
    />
  );
}
